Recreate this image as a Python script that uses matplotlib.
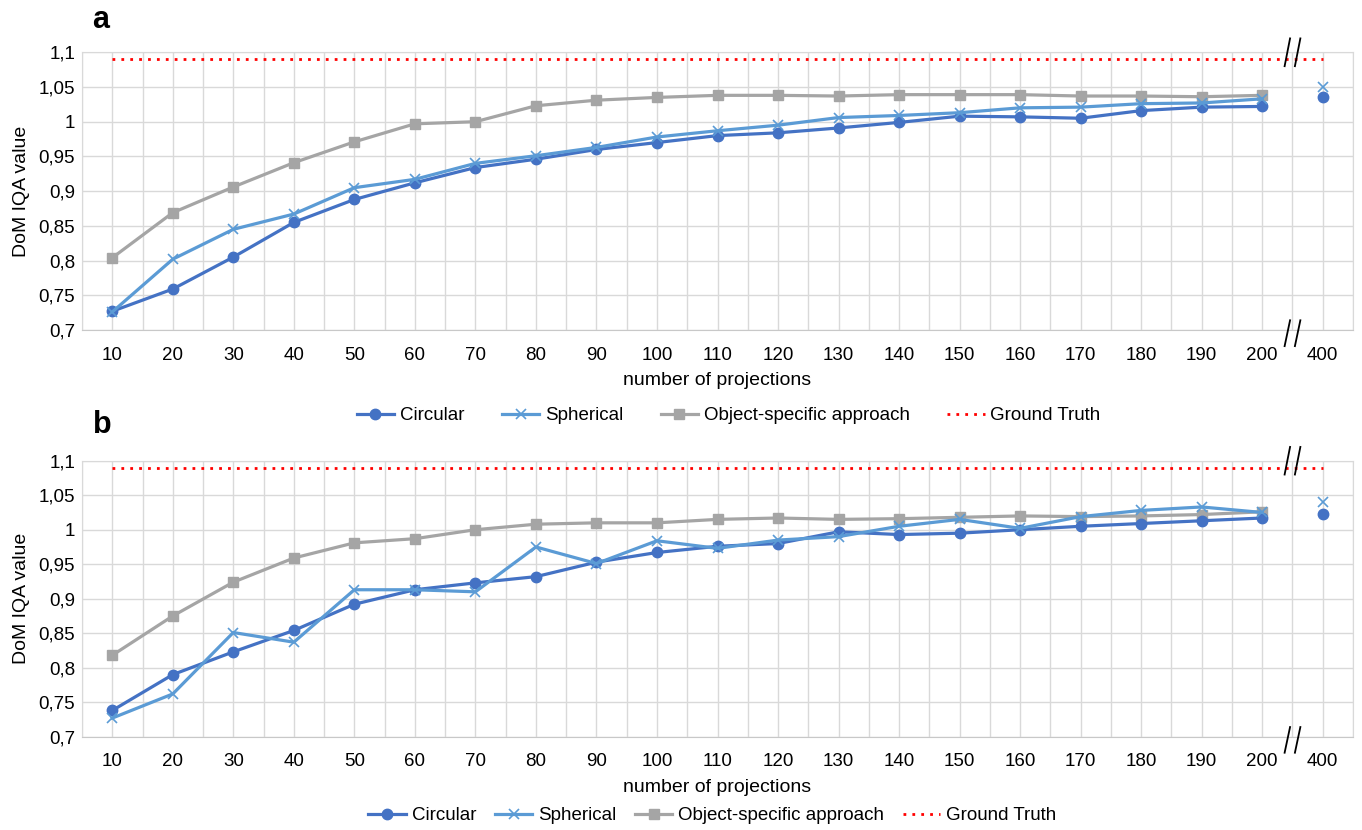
import numpy as np
import matplotlib.pyplot as plt
from matplotlib.lines import Line2D
import matplotlib.transforms as mtransforms


########################################
#   Data
########################################

projections = ['10', '20', '30', '40', '50', '60', '70', '80', '90', '100',
               '110', '120', '130', '140', '150', '160', '170', '180', '190', '200', '400']

# panel a (last value of circular/spherical = 400 projections)
a_circular = [0.727, 0.759, 0.805, 0.855, 0.888, 0.912, 0.934, 0.946, 0.960, 0.970,
              0.980, 0.984, 0.991, 0.999, 1.008, 1.007, 1.005, 1.016, 1.021, 1.022, 1.036]
a_spherical = [0.726, 0.802, 0.845, 0.867, 0.905, 0.917, 0.940, 0.951, 0.963, 0.978,
               0.987, 0.995, 1.006, 1.009, 1.013, 1.020, 1.021, 1.026, 1.027, 1.033, 1.050]
a_object = [0.804, 0.869, 0.906, 0.941, 0.971, 0.997, 1.000, 1.023, 1.031, 1.035,
            1.038, 1.038, 1.037, 1.039, 1.039, 1.039, 1.037, 1.037, 1.036, 1.038]

# panel b
b_circular = [0.738, 0.790, 0.823, 0.854, 0.892, 0.913, 0.923, 0.932, 0.953, 0.967,
              0.976, 0.980, 0.997, 0.993, 0.995, 1.000, 1.005, 1.009, 1.013, 1.017, 1.023]
b_spherical = [0.727, 0.762, 0.851, 0.837, 0.913, 0.913, 0.910, 0.975, 0.951, 0.984,
               0.973, 0.985, 0.990, 1.005, 1.015, 1.002, 1.019, 1.028, 1.033, 1.025, 1.040]
b_object = [0.818, 0.875, 0.924, 0.959, 0.981, 0.987, 1.000, 1.008, 1.010, 1.010,
            1.015, 1.017, 1.015, 1.016, 1.018, 1.020, 1.019, 1.020, 1.022, 1.026]

ground_truth = 1.09

yticks = [0.7, 0.75, 0.8, 0.85, 0.9, 0.95, 1.0, 1.05, 1.1]

names = ['Circular', 'Spherical', 'Object-specific approach', 'Ground Truth']


########################################
#   Style
########################################

plt.rcParams['font.family'] = ['Liberation Sans', 'DejaVu Sans']

cCirc = '#4472C4'
cSph = '#5B9BD5'
cObj = '#A5A5A5'
cGT = '#FF0000'
cGrid = '#D9D9D9'
gtStyle = (0, (1, 2.2))


def styleOf(i):
    if i == 0:
        return dict(color=cCirc, marker='o', markersize=7.5, linewidth=2.3)
    if i == 1:
        return dict(color=cSph, marker='x', markersize=7.5, markeredgewidth=1.2, linewidth=2.3)
    return dict(color=cObj, marker='s', markersize=7, linewidth=2.3)


def Panel(ax, circ, sph, obj):
    x = np.arange(len(projections))
    n = len(x) - 1

    # grid: category borders and centres
    ax.set_xticks(x)
    ax.set_xticks(np.arange(-0.5, len(x), 1.0), minor=True)
    ax.grid(which='both', axis='x', color=cGrid, linewidth=1)
    ax.set_yticks(yticks)
    ax.grid(which='major', axis='y', color=cGrid, linewidth=1)
    ax.set_axisbelow(True)

    ax.plot([x[0], x[-1]], [ground_truth, ground_truth], color=cGT,
            linestyle=gtStyle, linewidth=2, zorder=2)

    series = [circ, sph, obj]
    for i in [2, 0, 1]:
        s = series[i]
        ax.plot(x[:n], s[:n], zorder=3, **styleOf(i))
        if len(s) > n:
            st = styleOf(i)
            st['linewidth'] = 0
            ax.plot(x[n:len(s)], s[n:], zorder=3, **st)

    ax.set_xlim(-0.5, len(x) - 0.5)
    ax.set_ylim(0.7, 1.1)
    ax.set_xticklabels(projections)
    ax.set_yticklabels([('%g' % v).replace('.', ',') for v in yticks])
    ax.tick_params(which='both', length=0, labelsize=13.5, colors='#000000')
    ax.tick_params(axis='x', pad=12)
    ax.tick_params(axis='y', pad=5)

    for side in ['left', 'top', 'right']:
        ax.spines[side].set_color(cGrid)
    ax.spines['bottom'].set_color('#C8C8C8')

    ax.set_xlabel('number of projections', fontsize=14, labelpad=6)
    ax.set_ylabel('DoM IQA value', fontsize=14, labelpad=6)

    # axis break marks between 200 and 400
    trans = mtransforms.blended_transform_factory(ax.transData, ax.transAxes)
    xb = n - 0.5
    for dx in [-0.085, 0.085]:
        ax.plot([xb + dx - 0.045, xb + dx + 0.045], [0.95, 1.05], color='black',
                linewidth=1.3, transform=trans, clip_on=False, zorder=5)
        ax.plot([xb + dx - 0.045, xb + dx + 0.045], [-0.058, 0.035], color='black',
                linewidth=1.3, transform=trans, clip_on=False, zorder=5)


def legendHandles():
    h = [Line2D([], [], **styleOf(i)) for i in range(3)]
    h.append(Line2D([], [], color=cGT, linestyle=gtStyle, linewidth=2))
    return h


########################################
#   Plot
########################################

fig = plt.figure(figsize=(13.62, 8.30), dpi=100)

axA = fig.add_axes([0.0602, 0.6024, 0.9332, 0.3346])
axB = fig.add_axes([0.0602, 0.1124, 0.9332, 0.3325])

Panel(axA, a_circular, a_spherical, a_object)
Panel(axB, b_circular, b_spherical, b_object)

fig.text(0.068, 0.976, 'a', fontsize=22, fontweight='bold', va='center')
fig.text(0.068, 0.488, 'b', fontsize=22, fontweight='bold', va='center')

fig.legend(legendHandles(), names, loc='center', bbox_to_anchor=(0.535, 0.499),
           ncol=4, frameon=False, fontsize=13.5, handlelength=2.0,
           handletextpad=0.3, columnspacing=2.0)
fig.legend(legendHandles(), names, loc='center', bbox_to_anchor=(0.523, 0.017),
           ncol=4, frameon=False, fontsize=13.5, handlelength=2.0,
           handletextpad=0.3, columnspacing=1.0)

plt.savefig('out.png', dpi=100)
